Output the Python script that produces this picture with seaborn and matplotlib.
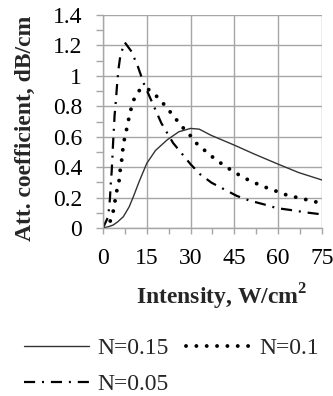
import numpy as np
import pandas as pd
import matplotlib
matplotlib.use("Agg")
import matplotlib.pyplot as plt
import seaborn as sns
from matplotlib.ticker import MultipleLocator

# ---- data ----
x_015 = [0, 2, 3.5, 5, 7, 9, 10.5, 12.5, 15, 18, 22, 26, 30, 33, 37, 45, 52, 60, 67, 75]
y_015 = [0, 0.01, 0.02, 0.04, 0.075, 0.14, 0.21, 0.31, 0.425, 0.51, 0.58, 0.633, 0.655,
         0.65, 0.61, 0.545, 0.485, 0.42, 0.365, 0.316]

x_010 = [0, 2.4, 3.5, 4.1, 4.7, 5.5, 5.9, 6.4, 6.8, 7.3, 8.1, 8.8, 9.6, 10.5, 12.3, 14,
         15.6, 18.3, 20.6, 22.8, 25.1, 27.3, 29.8, 31.8, 34.7, 37.4, 40.2, 43.2, 46.1,
         49.2, 52.4, 55.7, 59, 62.3, 65.8, 69.2, 72.6, 75]
y_010 = [0, 0.04, 0.107, 0.173, 0.24, 0.305, 0.377, 0.442, 0.513, 0.578, 0.648, 0.714,
         0.78, 0.841, 0.902, 0.92, 0.911, 0.868, 0.82, 0.769, 0.714, 0.662, 0.611, 0.561,
         0.513, 0.469, 0.429, 0.39, 0.355, 0.322, 0.294, 0.268, 0.245, 0.221, 0.204,
         0.189, 0.173, 0.165]

x_005 = [0, 1.8, 2.4, 2.7, 3.0, 3.3, 3.5, 3.8, 4.0, 4.5, 4.8, 5.3, 6.0, 7.5, 9.8, 12,
         14, 17, 20, 24, 27, 30, 33.2, 37.2, 41.4, 45.8, 50, 55.1, 59.6, 64.6, 69.5, 75]
y_005 = [0, 0.074, 0.19, 0.294, 0.37, 0.48, 0.565, 0.666, 0.74, 0.85, 0.93, 1.04, 1.137,
         1.22, 1.16, 1.06, 0.95, 0.82, 0.69, 0.56, 0.49, 0.42, 0.355, 0.298, 0.256,
         0.212, 0.182, 0.156, 0.131, 0.118, 0.103, 0.09]

labels = ["N=0.15", "N=0.1", "N=0.05"]
xticks = [0, 15, 30, 45, 60, 75]
xtick_labels = ["0", "15", "30", "45", "60", "75"]
yticks = [0, 0.2, 0.4, 0.6, 0.8, 1.0, 1.2, 1.4]
ytick_labels = ["0", "0.2", "0.4", "0.6", "0.8", "1", "1.2", "1.4"]

df = pd.concat([
    pd.DataFrame({"x": x_015, "y": y_015, "series": labels[0]}),
    pd.DataFrame({"x": x_010, "y": y_010, "series": labels[1]}),
    pd.DataFrame({"x": x_005, "y": y_005, "series": labels[2]}),
])

sns.set_style("white")
plt.rcParams["font.family"] = ["Liberation Serif", "DejaVu Serif"]
plt.rcParams["mathtext.fontset"] = "custom"
plt.rcParams["mathtext.bf"] = "Liberation Serif:bold"
plt.rcParams["mathtext.rm"] = "Liberation Serif"

FS = 17

fig = plt.figure(figsize=(3.33, 3.96), dpi=100)
ax = fig.add_axes([0.309, 0.424, 0.658, 0.538])

styles = {
    labels[0]: dict(color="#333333", lw=1.0, ls="-"),
    labels[1]: dict(color="black", lw=2.8, ls=(0, (0.01, 2.65)), dash_capstyle="round"),
    labels[2]: dict(color="black", lw=1.6, ls=(0, (5.0, 3.1, 0.9, 3.1))),
}
handles = {}
for lab in labels:
    sub = df[df["series"] == lab]
    st = styles[lab]
    sns.lineplot(data=sub, x="x", y="y", ax=ax, label=lab, color=st["color"],
                 linewidth=st["lw"], estimator=None, sort=False)
    l = ax.lines[-1]
    l.set_linestyle(st["ls"])
    if "dash_capstyle" in st:
        l.set_dash_capstyle(st["dash_capstyle"])
    handles[lab] = l

ax.set_xlim(0, 75)
ax.set_ylim(0, 1.4)
ax.set_xticks(xticks)
ax.set_xticklabels(xtick_labels)
ax.set_yticks(yticks)
ax.set_yticklabels(ytick_labels)
ax.xaxis.set_minor_locator(MultipleLocator(7.5))
ax.yaxis.set_minor_locator(MultipleLocator(0.1))

ax.grid(True, which="major", color="#a6a6a6", lw=1.0)
for s in ["top", "right"]:
    ax.spines[s].set_visible(False)
for s in ["left", "bottom"]:
    ax.spines[s].set_color("#a6a6a6")
    ax.spines[s].set_linewidth(1.0)
ax.tick_params(which="both", direction="out", color="#a6a6a6", width=1.0,
               labelsize=FS, labelcolor="black")
ax.tick_params(axis="y", which="both", length=5, left=True, pad=10)
ax.tick_params(axis="x", which="both", length=4, bottom=True, pad=10)

ax.set_xlabel("Intensity, W/cm$^\\mathbf{2}$", fontsize=FS, fontweight="bold")
ax.set_ylabel("Att. coefficient, dB/cm", fontsize=FS, fontweight="bold")
ax.xaxis.set_label_coords(0.54, -0.25)
ax.yaxis.set_label_coords(-0.305, 0.47)

if ax.legend_:
    ax.legend_.remove()
order = [labels[0], labels[2], labels[1]]
fig.legend([handles[k] for k in order], order, ncol=2, loc="upper left",
           bbox_to_anchor=(0.072, 0.147), frameon=False, fontsize=FS,
           handlelength=2.75, handletextpad=0.34, columnspacing=0.75,
           labelspacing=0.62, borderaxespad=0, borderpad=0)

fig.savefig("out.png", dpi=100)
